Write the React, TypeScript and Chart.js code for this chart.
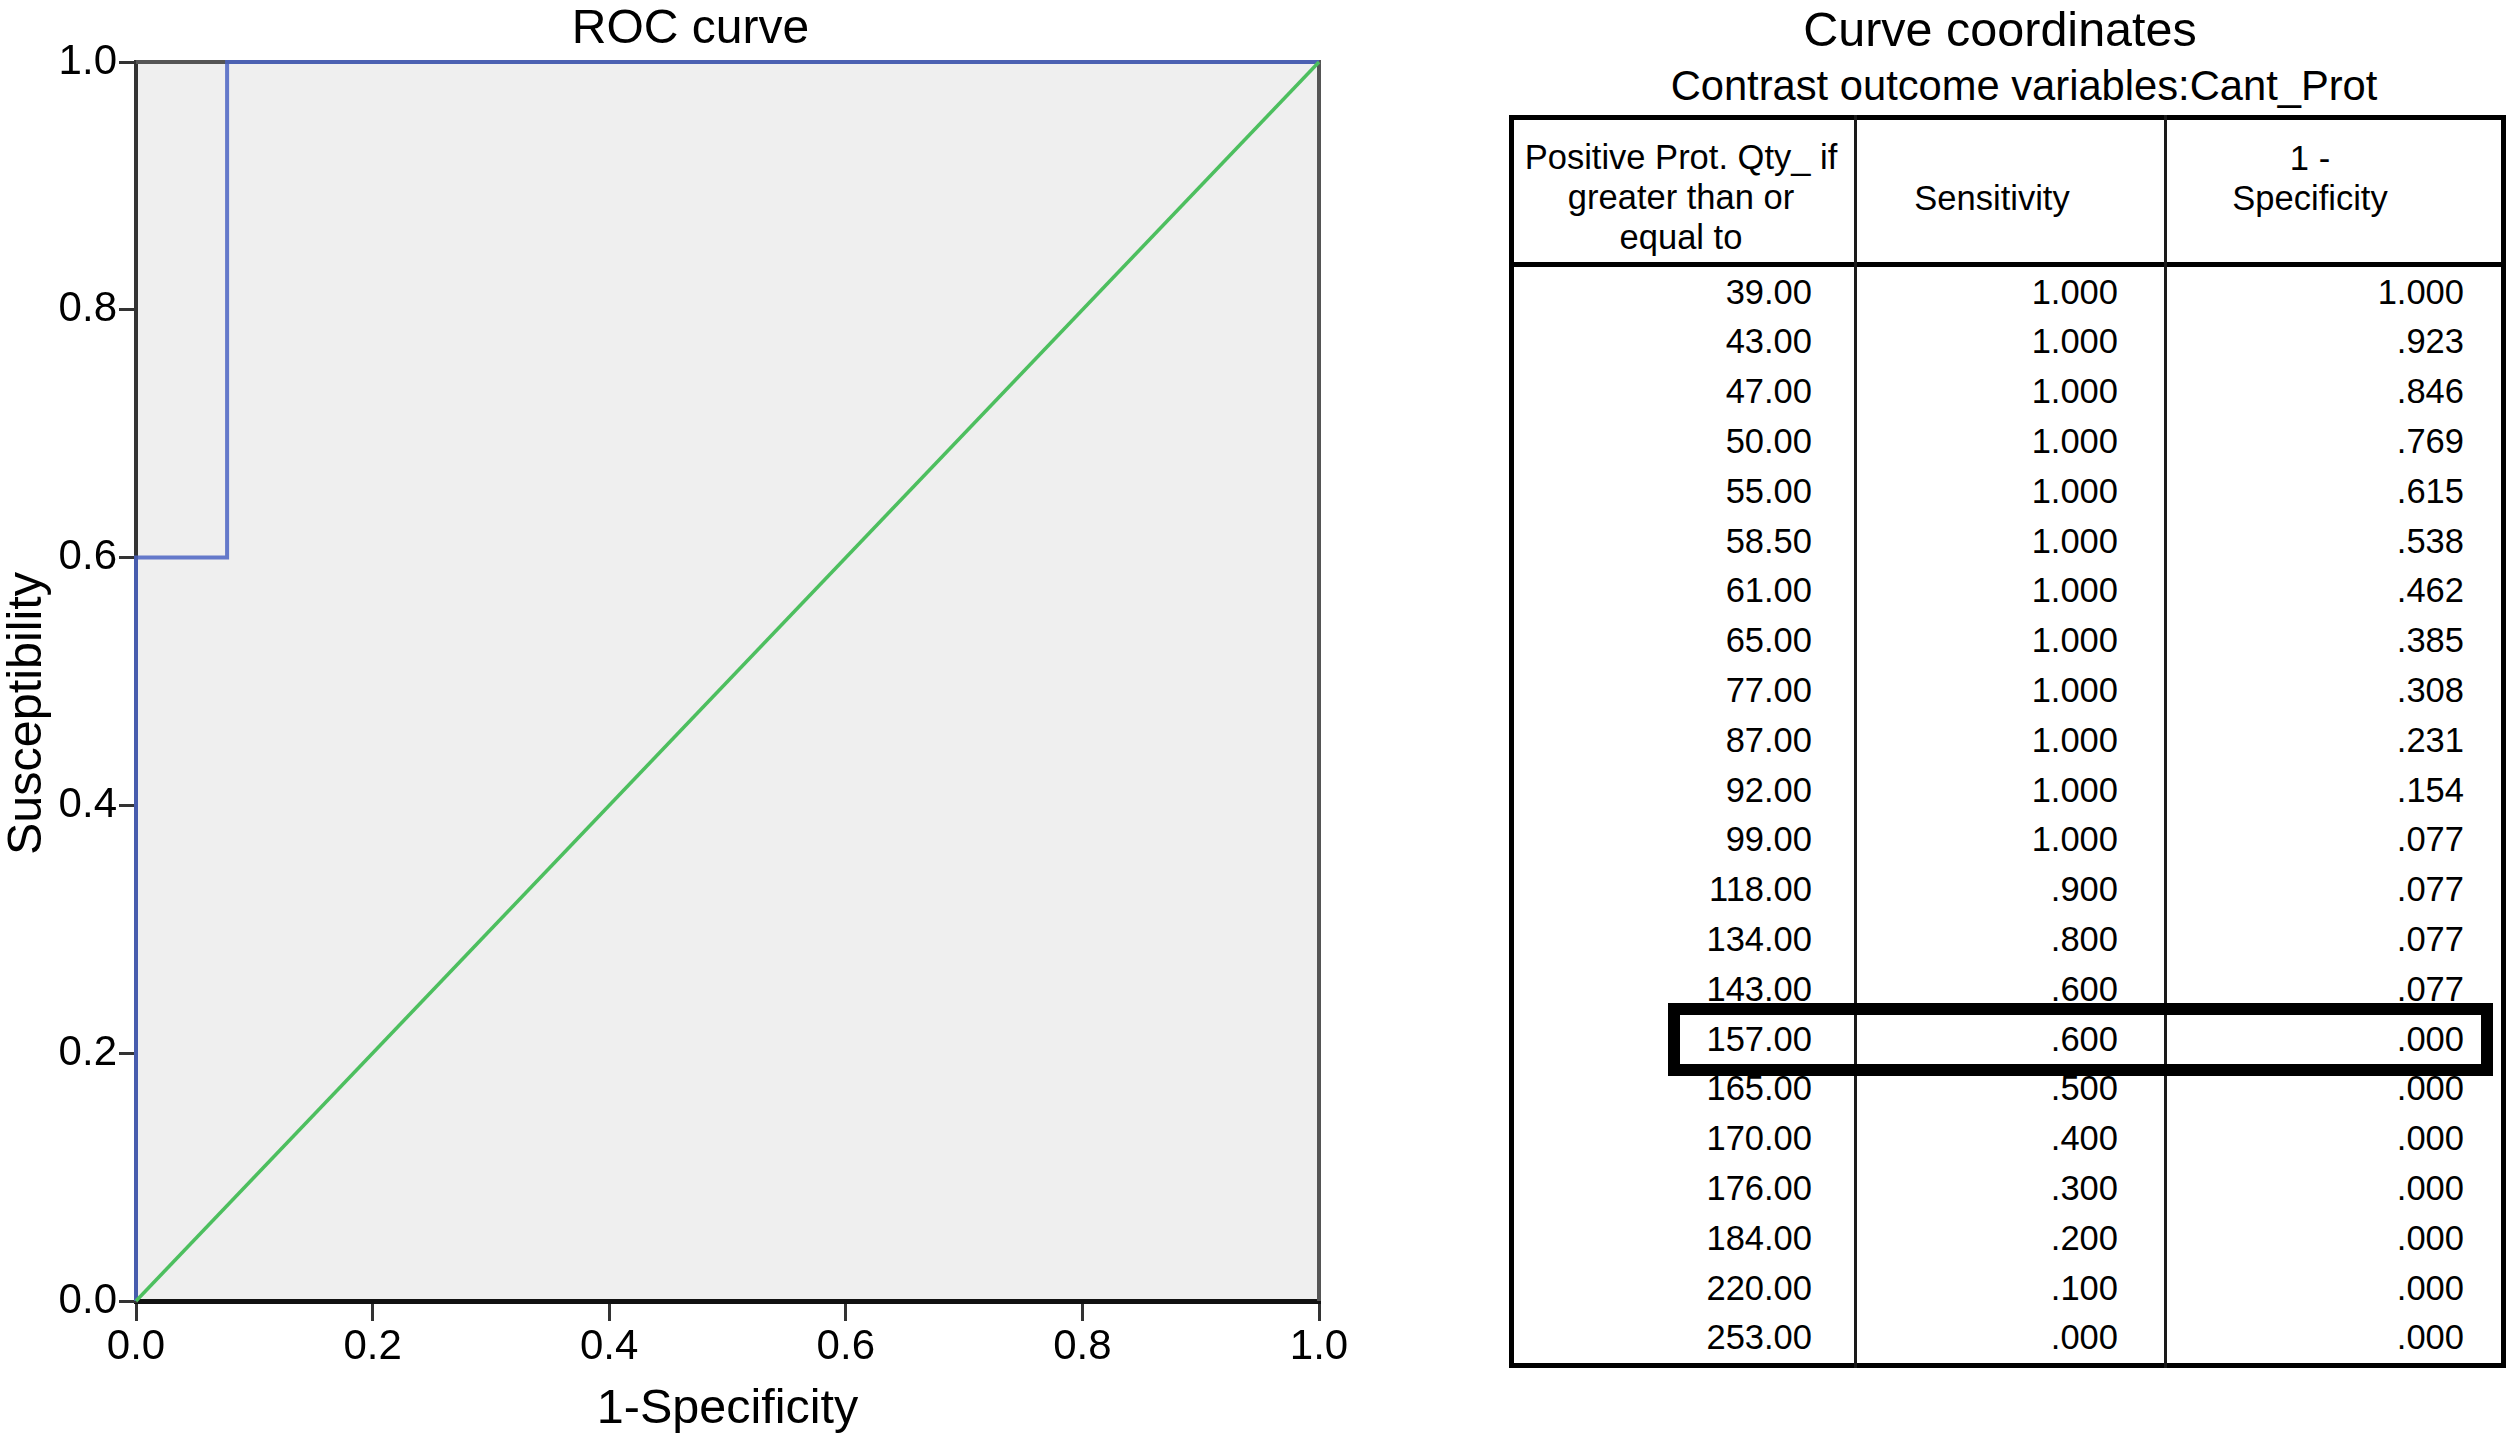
import React, { useEffect, useRef } from 'react';
import { Chart, registerables } from 'chart.js';

Chart.register(...registerables);

const FONT = "'Liberation Sans', Arial, Helvetica, sans-serif";

// ---- data ----
const thresholds = [39, 43, 47, 50, 55, 58.5, 61, 65, 77, 87, 92, 99, 118, 134, 143, 157, 165, 170, 176, 184, 220, 253];
const sensitivity = [1, 1, 1, 1, 1, 1, 1, 1, 1, 1, 1, 1, 0.9, 0.8, 0.6, 0.6, 0.5, 0.4, 0.3, 0.2, 0.1, 0];
const oneMinusSpecificity = [1, 0.923, 0.846, 0.769, 0.615, 0.538, 0.462, 0.385, 0.308, 0.231, 0.154, 0.077, 0.077, 0.077, 0.077, 0, 0, 0, 0, 0, 0, 0];
const referenceX = [0, 1];
const referenceY = [0, 1];
const axisTicks = [0, 0.2, 0.4, 0.6, 0.8, 1.0];
const highlightedThreshold = 157;

const chartTitle = 'ROC curve';
const xTitle = '1-Specificity';
const yTitle = 'Susceptibility';
const tableTitle = 'Curve coordinates';
const tableSubtitle = 'Contrast outcome variables:Cant_Prot';
const headerCol1 = ['Positive Prot. Qty_ if', 'greater than or', 'equal to'];
const headerCol2 = ['Sensitivity'];
const headerCol3 = ['1 -', 'Specificity'];

const fmt3 = (v: number) => (v >= 1 ? v.toFixed(3) : v.toFixed(3).replace(/^0/, ''));

const framePlugin = {
  id: 'rocFrame',
  beforeDraw(chart: any) {
    const { ctx, chartArea } = chart;
    const { left, top, right, bottom } = chartArea;
    ctx.save();
    ctx.fillStyle = '#efefef';
    ctx.fillRect(left, top, right - left, bottom - top);
    ctx.restore();
  },
  beforeDatasetsDraw(chart: any) {
    const { ctx, chartArea } = chart;
    const { left, top, right, bottom } = chartArea;
    ctx.save();
    ctx.strokeStyle = '#555555';
    ctx.lineWidth = 4;
    ctx.beginPath();
    ctx.moveTo(left, top);
    ctx.lineTo(right, top);
    ctx.lineTo(right, bottom);
    ctx.stroke();
    ctx.restore();
  },
  afterDraw(chart: any) {
    const { ctx, chartArea } = chart;
    const { left, top, right, bottom } = chartArea;
    ctx.save();
    ctx.fillStyle = '#000';
    ctx.textAlign = 'center';
    ctx.textBaseline = 'middle';
    ctx.font = `48px ${FONT}`;
    ctx.fillText(chartTitle, (left + right) / 2 - 37, 30);
    ctx.translate(28, (top + bottom) / 2 + 32);
    ctx.rotate(-Math.PI / 2);
    ctx.font = `48.5px ${FONT}`;
    ctx.fillText(yTitle, 0, 0);
    ctx.restore();
  },
};

const ROW_TOP = 267.5;
const ROW_H = 49.8;

function RocChart() {
  const ref = useRef<HTMLCanvasElement>(null);
  useEffect(() => {
    const canvas = ref.current;
    if (!canvas) return;
    const rocPoints = oneMinusSpecificity.map((x, i) => ({ x, y: sensitivity[i] }));
    const refPoints = referenceX.map((x, i) => ({ x, y: referenceY[i] }));
    const tickFont = { family: FONT, size: 42 };
    const chart = new Chart(canvas, {
      type: 'scatter',
      data: {
        datasets: [
          {
            label: 'Reference',
            data: refPoints,
            showLine: true,
            borderColor: '#4dbf5f',
            borderWidth: 3.5,
            pointRadius: 0,
            clip: false as any,
          },
          {
            label: 'ROC',
            data: rocPoints,
            showLine: true,
            borderColor: 'rgba(75,100,195,0.85)',
            borderWidth: 4,
            pointRadius: 0,
            clip: false as any,
          },
        ],
      },
      options: {
        responsive: false,
        animation: false,
        events: [],
        layout: { padding: { left: 0, right: 161, top: 62, bottom: 0 } },
        plugins: { legend: { display: false }, tooltip: { enabled: false }, title: { display: false } },
        scales: {
          x: {
            type: 'linear',
            position: 'bottom',
            min: 0,
            max: 1,
            afterBuildTicks: (s: any) => { s.ticks = axisTicks.map((v) => ({ value: v })); },
            afterFit: (s: any) => { s.height = 138; },
            ticks: { color: '#000', font: tickFont, padding: 1, maxRotation: 0, callback: (v: any) => Number(v).toFixed(1) },
            grid: { display: true, drawOnChartArea: false, drawTicks: true, tickLength: 20, color: '#333', lineWidth: 3 },
            border: { display: true, color: '#111', width: 5 },
            title: { display: true, text: xTitle, color: '#000', font: { family: FONT, size: 48.5 }, padding: { top: 0, bottom: 0 } },
          },
          y: {
            type: 'linear',
            position: 'left',
            min: 0,
            max: 1,
            afterBuildTicks: (s: any) => { s.ticks = axisTicks.map((v) => ({ value: v })); },
            afterFit: (s: any) => { s.width = 136; },
            ticks: { color: '#000', font: tickFont, padding: 2, callback: (v: any) => Number(v).toFixed(1) },
            grid: { display: true, drawOnChartArea: false, drawTicks: true, tickLength: 17, color: '#333', lineWidth: 3 },
            border: { display: true, color: '#333', width: 4 },
          },
        },
      },
      plugins: [framePlugin],
    } as any);
    return () => chart.destroy();
  }, []);
  return (
    <canvas
      ref={ref}
      width={1480}
      height={1439}
      style={{ position: 'absolute', left: 0, top: 0, width: 1480, height: 1439, display: 'block' }}
    />
  );
}

function abs(left: number, top: number, width: number, height: number, extra: React.CSSProperties = {}): React.CSSProperties {
  return { position: 'absolute', left, top, width, height, boxSizing: 'border-box', ...extra };
}

function HeaderCell({ lines, cx, top }: { lines: string[]; cx: number; top: number }) {
  return (
    <div style={abs(cx - 200, top, 400, lines.length * 40, { textAlign: 'center', fontSize: 34.5, lineHeight: '40px', whiteSpace: 'nowrap' })}>
      {lines.map((l, i) => (
        <div key={i}>{l}</div>
      ))}
    </div>
  );
}

function CoordTable() {
  const colRights = [1812, 2118, 2464];
  const colLefts = [1514, 1857, 2167];
  const hiIndex = thresholds.indexOf(highlightedThreshold);
  return (
    <>
      <div style={abs(1600, 1, 800, 56, { textAlign: 'center', fontSize: 48.5, lineHeight: '56px' })}>{tableTitle}</div>
      <div style={abs(1524, 61, 1000, 50, { textAlign: 'center', fontSize: 41.7, lineHeight: '50px' })}>{tableSubtitle}</div>
      {/* outer frame */}
      <div style={abs(1509, 115, 997, 1253, { border: '5px solid #000' })} />
      {/* header bottom */}
      <div style={abs(1509, 262, 997, 5, { background: '#000' })} />
      {/* column dividers */}
      <div style={abs(1854, 115, 3, 1253, { background: '#1a1a1a' })} />
      <div style={abs(2164, 115, 3, 1253, { background: '#1a1a1a' })} />
      <HeaderCell lines={headerCol1} cx={1681} top={137} />
      <HeaderCell lines={headerCol2} cx={1992} top={178} />
      <HeaderCell lines={headerCol3} cx={2310} top={138} />
      {thresholds.map((t, i) => {
        const top = ROW_TOP + i * ROW_H;
        const vals = [t.toFixed(2), fmt3(sensitivity[i]), fmt3(oneMinusSpecificity[i])];
        return vals.map((v, c) => (
          <div
            key={`${i}-${c}`}
            style={abs(colLefts[c], top, colRights[c] - colLefts[c], ROW_H, {
              textAlign: 'right',
              fontSize: 34.5,
              lineHeight: `${ROW_H}px`,
              whiteSpace: 'nowrap',
            })}
          >
            {v}
          </div>
        ));
      })}
      {hiIndex >= 0 && (
        <div style={abs(1668, ROW_TOP + hiIndex * ROW_H - 12, 825, ROW_H + 24, { border: '12px solid #000' })} />
      )}
    </>
  );
}

export default function App() {
  return (
    <div
      style={{
        position: 'absolute',
        left: 0,
        top: 0,
        width: 2508,
        height: 1439,
        background: '#fff',
        overflow: 'hidden',
        fontFamily: FONT,
        color: '#000',
      }}
    >
      <RocChart />
      <CoordTable />
    </div>
  );
}
